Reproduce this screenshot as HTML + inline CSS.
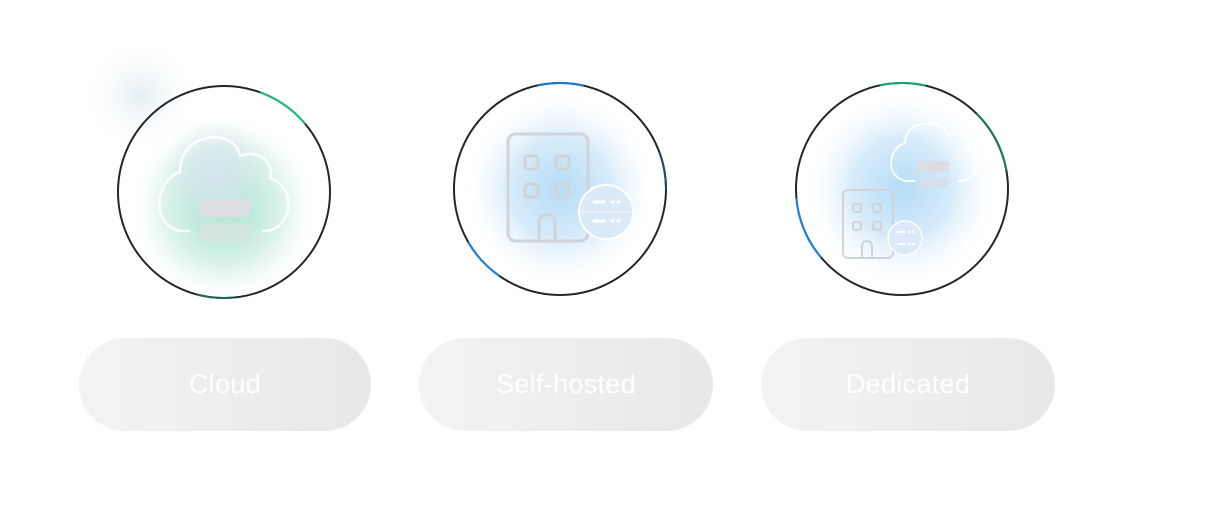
<!DOCTYPE html>
<html><head><style>
body{margin:0;background:#fff;width:1208px;height:530px;overflow:hidden;font-family:"Liberation Sans",sans-serif}
.pill{position:absolute;height:93px;border-radius:47px;background:linear-gradient(90deg,#f3f3f3,#e8e8e8);color:#fff;font-size:27px;letter-spacing:0.3px;display:flex;align-items:center;justify-content:center;top:338px}
</style></head><body>
<svg width="1208" height="530" style="position:absolute;left:0;top:0">
<defs>
<radialGradient id="gg" cx="0.5" cy="0.55" r="0.5">
<stop offset="0" stop-color="#b0e9d2"/><stop offset="0.3" stop-color="#bfe9dc"/><stop offset="0.6" stop-color="#dcf3ea"/><stop offset="1" stop-color="#fff" stop-opacity="0"/></radialGradient>
<radialGradient id="gc" cx="0.5" cy="0.5" r="0.5">
<stop offset="0" stop-color="#d6e4ee"/><stop offset="1" stop-color="#d6e4ee" stop-opacity="0"/></radialGradient>
<radialGradient id="gb" cx="0.5" cy="0.5" r="0.5">
<stop offset="0" stop-color="#b5dcf7"/><stop offset="0.5" stop-color="#d6ebfa"/><stop offset="1" stop-color="#fff" stop-opacity="0"/></radialGradient>
<radialGradient id="gh" cx="0.5" cy="0.5" r="0.5">
<stop offset="0" stop-color="#e3eef2"/><stop offset="1" stop-color="#fff" stop-opacity="0"/></radialGradient>
</defs>
<circle cx="140" cy="95" r="60" fill="url(#gh)"/>
<!-- Cloud -->
<circle cx="224" cy="198" r="98" fill="url(#gg)"/>
<circle cx="215" cy="175" r="55" fill="url(#gc)"/>
<circle cx="224" cy="192" r="106" fill="none" stroke="#23262b" stroke-width="2"/>
<circle cx="224" cy="192" r="106" fill="none" stroke="#1dbf7c" stroke-width="2" pathLength="360" stroke-dasharray="30 360" stroke-dashoffset="-290"/>
<circle cx="224" cy="192" r="106" fill="none" stroke="#1a6a56" stroke-width="2" pathLength="360" stroke-dasharray="20 360" stroke-dashoffset="-85"/>
<path d="M190 231 H180 C150 225 155 180 180 172 C180 130 235 128 240 156 C260 148 275 165 270 178 C300 190 290 230 265 231 H262" fill="none" stroke="#fff" stroke-width="2.5" opacity="0.9"/>
<rect x="200" y="199" width="50" height="18" rx="5" fill="#dcdde2"/>
<rect x="200" y="224" width="50" height="18" rx="5" fill="#d8e2e0" opacity="0.8"/>
<!-- Self-hosted -->
<circle cx="560" cy="189" r="100" fill="url(#gb)"/>
<circle cx="560" cy="189" r="106" fill="none" stroke="#23262b" stroke-width="2"/>
<circle cx="560" cy="189" r="106" fill="none" stroke="#1a7ad0" stroke-width="2" pathLength="360" stroke-dasharray="25 360" stroke-dashoffset="-258"/>
<circle cx="560" cy="189" r="106" fill="none" stroke="#1a85e0" stroke-width="2" pathLength="360" stroke-dasharray="25 360" stroke-dashoffset="-125"/>
<circle cx="560" cy="189" r="106" fill="none" stroke="#1d4a70" stroke-width="2" pathLength="360" stroke-dasharray="40 360" stroke-dashoffset="-340"/>
<rect x="508" y="134" width="80" height="107" rx="8" fill="none" stroke="#d0d4d8" stroke-width="3"/>
<g fill="none" stroke="#d0d4d8" stroke-width="3"><rect x="525" y="156" width="13" height="13" rx="3"/><rect x="556" y="156" width="13" height="13" rx="3"/><rect x="525" y="184" width="13" height="13" rx="3"/><rect x="556" y="184" width="13" height="13" rx="3"/><path d="M539 241 V222 a8 8 0 0 1 16 0 V241"/></g>
<circle cx="606" cy="212" r="27" fill="#dbeaf8" stroke="#fff" stroke-width="2"/>
<line x1="580" y1="212" x2="632" y2="212" stroke="#fff" opacity="0.6"/>
<g stroke="#fff" stroke-width="3" stroke-linecap="round"><path d="M594 202h10M612 202h1M618 202h1M594 221h10M612 221h1M618 221h1"/></g>
<!-- Dedicated -->
<circle cx="902" cy="189" r="100" fill="url(#gb)"/>
<circle cx="902" cy="189" r="106" fill="none" stroke="#23262b" stroke-width="2"/>
<circle cx="902" cy="189" r="106" fill="none" stroke="#17a872" stroke-width="2" pathLength="360" stroke-dasharray="25 360" stroke-dashoffset="-258"/>
<circle cx="902" cy="189" r="106" fill="none" stroke="#1a7a58" stroke-width="2" pathLength="360" stroke-dasharray="35 360" stroke-dashoffset="-315"/>
<circle cx="902" cy="189" r="106" fill="none" stroke="#1a85e0" stroke-width="2" pathLength="360" stroke-dasharray="35 360" stroke-dashoffset="-140"/>
<path d="M915 181 H905 C885 176 888 148 905 143 C905 118 945 118 948 136 C962 130 972 142 968 150 C985 160 978 180 960 181 H958" fill="none" stroke="#fff" stroke-width="2" opacity="0.9"/>
<rect x="917" y="161" width="32" height="11" rx="3" fill="#dcdde2"/>
<rect x="917" y="178" width="32" height="10" rx="3" fill="#d8dde5" opacity="0.8"/>
<rect x="843" y="190" width="50" height="68" rx="5" fill="none" stroke="#d0d4d8" stroke-width="2"/>
<g fill="none" stroke="#d0d4d8" stroke-width="2"><rect x="853" y="204" width="8" height="8" rx="2"/><rect x="873" y="204" width="8" height="8" rx="2"/><rect x="853" y="222" width="8" height="8" rx="2"/><rect x="873" y="222" width="8" height="8" rx="2"/><path d="M862 258 V246 a5 5 0 0 1 10 0 V258"/></g>
<circle cx="905" cy="238" r="17" fill="#dbeaf8" stroke="#fff" stroke-width="1.5"/>
<g stroke="#fff" stroke-width="2" stroke-linecap="round"><path d="M898 232h6M909 232h1M913 232h1M898 244h6M909 244h1M913 244h1"/></g>
</svg>
<div class="pill" style="left:79px;width:292px">Cloud</div>
<div class="pill" style="left:419px;width:294px">Self-hosted</div>
<div class="pill" style="left:761px;width:294px">Dedicated</div>
</body></html>
